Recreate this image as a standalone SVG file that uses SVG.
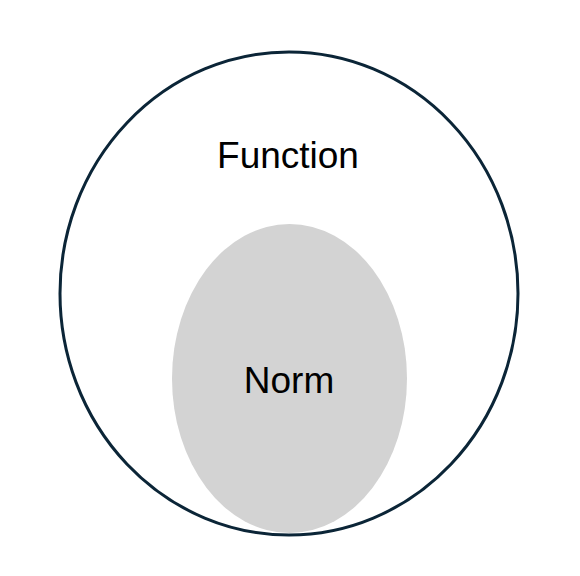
<svg xmlns="http://www.w3.org/2000/svg" width="580" height="576" viewBox="0 0 580 576">
<style>
.lbl{font-family:"Liberation Sans",Arial,sans-serif;font-size:37px;fill:#000;text-anchor:middle}
</style>
<rect width="580" height="576" fill="#fff"/>
<g id="norm">
<ellipse cx="289.5" cy="378.5" rx="117.5" ry="154.5" fill="#d3d3d3"/>
</g>
<g id="function">
<ellipse cx="289" cy="293.5" rx="229" ry="241.5" fill="none" stroke="#0b2537" stroke-width="3"/>
<text class="lbl" x="288" y="168">Function</text>
</g>
<g id="norm-label">
<text class="lbl" x="289" y="393">Norm</text>
</g>
<g id="connectors"/>
</svg>
